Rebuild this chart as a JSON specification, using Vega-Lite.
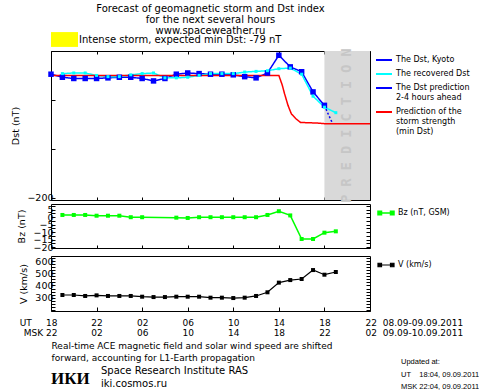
{
  "$schema": "https://vega.github.io/schema/vega-lite/v6.json",
  "background": "white",
  "padding": {"left": 10, "top": 4, "right": 0, "bottom": 0},
  "config": {
    "font": "DejaVu Sans",
    "view": {"stroke": "black", "strokeWidth": 1},
    "axis": {"domain": false, "grid": false, "labelColor": "black", "tickColor": "black", "titleColor": "black", "titleFontWeight": "normal", "labelFontSize": 9.5, "titleFontSize": 9.5, "labelFont": "DejaVu Sans", "titleFont": "DejaVu Sans", "labelOverlap": false},
    "legend": {"labelColor": "black", "labelFont": "DejaVu Sans", "labelFontSize": 8},
    "title": {"color": "black", "font": "DejaVu Sans", "fontWeight": "normal"}
  },
  "datasets": {
    "dst": [
      {"h": 0, "v": 2, "s": "The Dst, Kyoto"}, {"h": 1, "v": -3, "s": "The Dst, Kyoto"}, {"h": 2, "v": -5, "s": "The Dst, Kyoto"}, {"h": 3, "v": -5, "s": "The Dst, Kyoto"}, {"h": 4, "v": -5, "s": "The Dst, Kyoto"}, {"h": 5, "v": -4, "s": "The Dst, Kyoto"}, {"h": 6, "v": -3, "s": "The Dst, Kyoto"}, {"h": 7, "v": -3, "s": "The Dst, Kyoto"}, {"h": 8, "v": -5, "s": "The Dst, Kyoto"}, {"h": 9, "v": -9, "s": "The Dst, Kyoto"}, {"h": 10, "v": -5, "s": "The Dst, Kyoto"}, {"h": 11, "v": 2, "s": "The Dst, Kyoto"}, {"h": 12, "v": 4, "s": "The Dst, Kyoto"}, {"h": 13, "v": 3, "s": "The Dst, Kyoto"}, {"h": 14, "v": 2, "s": "The Dst, Kyoto"}, {"h": 15, "v": 2, "s": "The Dst, Kyoto"}, {"h": 16, "v": 1, "s": "The Dst, Kyoto"}, {"h": 17, "v": -2, "s": "The Dst, Kyoto"}, {"h": 18, "v": -4, "s": "The Dst, Kyoto"}, {"h": 19, "v": 4, "s": "The Dst, Kyoto"}, {"h": 20, "v": 33, "s": "The Dst, Kyoto"}, {"h": 21, "v": 14, "s": "The Dst, Kyoto"}, {"h": 22, "v": 6, "s": "The Dst, Kyoto"}, {"h": 23, "v": -27, "s": "The Dst, Kyoto"}, {"h": 24, "v": -49, "s": "The Dst, Kyoto"},
      {"h": 1, "v": 3, "s": "The recovered Dst"}, {"h": 2, "v": 4, "s": "The recovered Dst"}, {"h": 3, "v": 4, "s": "The recovered Dst"}, {"h": 4, "v": 0, "s": "The recovered Dst"}, {"h": 5, "v": -2, "s": "The recovered Dst"}, {"h": 6, "v": -2, "s": "The recovered Dst"}, {"h": 7, "v": 1, "s": "The recovered Dst"}, {"h": 8, "v": 3, "s": "The recovered Dst"}, {"h": 9, "v": 4, "s": "The recovered Dst"}, {"h": 10, "v": -4, "s": "The recovered Dst"}, {"h": 11, "v": -4, "s": "The recovered Dst"}, {"h": 12, "v": -3, "s": "The recovered Dst"}, {"h": 13, "v": 0, "s": "The recovered Dst"}, {"h": 14, "v": 3, "s": "The recovered Dst"}, {"h": 15, "v": 3, "s": "The recovered Dst"}, {"h": 16, "v": 3, "s": "The recovered Dst"}, {"h": 17, "v": 5.5, "s": "The recovered Dst"}, {"h": 18, "v": 6.6, "s": "The recovered Dst"}, {"h": 19, "v": 7.7, "s": "The recovered Dst"}, {"h": 20, "v": 11, "s": "The recovered Dst"}, {"h": 21, "v": 12, "s": "The recovered Dst"}, {"h": 22, "v": 2, "s": "The recovered Dst"}, {"h": 23, "v": -34, "s": "The recovered Dst"}, {"h": 24, "v": -52, "s": "The recovered Dst"}, {"h": 25, "v": -61, "s": "The recovered Dst"},
      {"h": 24, "v": -49, "s": "The Dst prediction|2-4 hours ahead"}, {"h": 24.35, "v": -64, "s": "The Dst prediction|2-4 hours ahead"}, {"h": 24.7, "v": -78, "s": "The Dst prediction|2-4 hours ahead"},
      {"h": 0, "v": 0, "s": "Prediction of the|storm strength|(min Dst)"}, {"h": 20, "v": 0, "s": "Prediction of the|storm strength|(min Dst)"}, {"h": 20.3, "v": -16, "s": "Prediction of the|storm strength|(min Dst)"}, {"h": 20.5, "v": -30, "s": "Prediction of the|storm strength|(min Dst)"}, {"h": 20.8, "v": -49, "s": "Prediction of the|storm strength|(min Dst)"}, {"h": 21.1, "v": -63, "s": "Prediction of the|storm strength|(min Dst)"}, {"h": 21.5, "v": -71, "s": "Prediction of the|storm strength|(min Dst)"}, {"h": 21.9, "v": -77, "s": "Prediction of the|storm strength|(min Dst)"}, {"h": 23.4, "v": -78, "s": "Prediction of the|storm strength|(min Dst)"}, {"h": 24, "v": -79, "s": "Prediction of the|storm strength|(min Dst)"}, {"h": 28, "v": -79, "s": "Prediction of the|storm strength|(min Dst)"}
    ],
    "bz": [
      {"h": 1, "v": 1.5, "s": "Bz (nT, GSM)"}, {"h": 2, "v": 1.5, "s": "Bz (nT, GSM)"}, {"h": 3, "v": 1.5, "s": "Bz (nT, GSM)"}, {"h": 4, "v": 1, "s": "Bz (nT, GSM)"}, {"h": 5, "v": 1, "s": "Bz (nT, GSM)"}, {"h": 6, "v": 1, "s": "Bz (nT, GSM)"}, {"h": 7, "v": 0, "s": "Bz (nT, GSM)"}, {"h": 8, "v": 0, "s": "Bz (nT, GSM)"}, {"h": 11, "v": -0.3, "s": "Bz (nT, GSM)"}, {"h": 12, "v": -0.5, "s": "Bz (nT, GSM)"}, {"h": 13, "v": 0, "s": "Bz (nT, GSM)"}, {"h": 14, "v": 0, "s": "Bz (nT, GSM)"}, {"h": 15, "v": 0, "s": "Bz (nT, GSM)"}, {"h": 16, "v": 0, "s": "Bz (nT, GSM)"}, {"h": 17, "v": 0, "s": "Bz (nT, GSM)"}, {"h": 18, "v": 0, "s": "Bz (nT, GSM)"}, {"h": 19, "v": 1.5, "s": "Bz (nT, GSM)"}, {"h": 20, "v": 4, "s": "Bz (nT, GSM)"}, {"h": 21, "v": 1.2, "s": "Bz (nT, GSM)"}, {"h": 22, "v": -14.5, "s": "Bz (nT, GSM)"}, {"h": 23, "v": -14.5, "s": "Bz (nT, GSM)"}, {"h": 24, "v": -10.3, "s": "Bz (nT, GSM)"}, {"h": 25, "v": -9.4, "s": "Bz (nT, GSM)"}
    ],
    "vsw": [
      {"h": 1, "v": 322, "s": "V (km/s)"}, {"h": 2, "v": 322, "s": "V (km/s)"}, {"h": 3, "v": 314, "s": "V (km/s)"}, {"h": 4, "v": 319, "s": "V (km/s)"}, {"h": 5, "v": 314, "s": "V (km/s)"}, {"h": 6, "v": 314, "s": "V (km/s)"}, {"h": 7, "v": 314, "s": "V (km/s)"}, {"h": 8, "v": 308, "s": "V (km/s)"}, {"h": 9, "v": 305, "s": "V (km/s)"}, {"h": 10, "v": 305, "s": "V (km/s)"}, {"h": 11, "v": 308, "s": "V (km/s)"}, {"h": 12, "v": 308, "s": "V (km/s)"}, {"h": 13, "v": 308, "s": "V (km/s)"}, {"h": 14, "v": 300, "s": "V (km/s)"}, {"h": 15, "v": 300, "s": "V (km/s)"}, {"h": 16, "v": 297, "s": "V (km/s)"}, {"h": 17, "v": 300, "s": "V (km/s)"}, {"h": 18, "v": 314, "s": "V (km/s)"}, {"h": 19, "v": 344, "s": "V (km/s)"}, {"h": 20, "v": 423, "s": "V (km/s)"}, {"h": 21, "v": 444, "s": "V (km/s)"}, {"h": 22, "v": 453, "s": "V (km/s)"}, {"h": 23, "v": 526, "s": "V (km/s)"}, {"h": 24, "v": 488, "s": "V (km/s)"}, {"h": 25, "v": 510, "s": "V (km/s)"}
    ]
  },
  "spacing": 4,
  "bounds": "flush",
  "resolve": {"scale": {"x": "independent", "y": "independent", "color": "independent"}, "legend": {"color": "independent"}},
  "vconcat": [
    {
      "width": 319,
      "height": 21,
      "view": {"stroke": null},
      "title": {"text": ["Forecast of geomagnetic storm and Dst index", "for the next several hours", "www.spaceweather.ru"], "anchor": "middle", "frame": "group", "fontSize": 10, "lineHeight": 11, "offset": -10},
      "data": {"values": [{"level": "Intense storm, expected min Dst: -79 nT"}]},
      "mark": {"type": "point", "opacity": 0},
      "encoding": {
        "fill": {"field": "level", "type": "nominal", "scale": {"range": ["#ffff00"]}, "legend": {"title": null, "orient": "top-left", "offset": 0, "padding": 0, "symbolType": "M-1,-0.55H1V0.55H-1Z", "symbolSize": 729, "symbolOpacity": 1, "symbolStrokeWidth": 0, "labelFontSize": 10, "labelOffset": 1, "labelLimit": 400}}
      }
    },
    {
      "width": 319,
      "height": 149,
      "resolve": {"axis": {"x": "independent"}},
      "layer": [
        {
          "data": {"values": [{"h": 24, "h2": 28}]},
          "mark": {"type": "rect", "color": "#d9d9d9"},
          "encoding": {
            "x": {"field": "h", "type": "quantitative", "scale": {"domain": [0, 28], "nice": false, "zero": false}, "axis": {"orient": "bottom", "values": [0, 4, 8, 12, 16, 20, 24, 28], "labels": false, "tickSize": -3, "title": null}},
            "x2": {"field": "h2"}
          }
        },
        {
          "data": {"values": [{"h": 26, "v": -82, "label": "P R E D I C T I O N"}]},
          "mark": {"type": "text", "angle": 270, "font": "DejaVu Sans Mono", "fontSize": 13.5, "fontWeight": "bold", "color": "#c6c6c6"},
          "encoding": {
            "x": {"field": "h", "type": "quantitative", "axis": {"orient": "top", "values": [0, 4, 8, 12, 16, 20, 24, 28], "labels": false, "tickSize": -3, "title": null}},
            "y": {"field": "v", "type": "quantitative", "scale": {"domain": [-204, 40], "nice": false, "zero": false}, "axis": {"values": [-200, -190, -180, -170, -160, -150, -140, -130, -120, -110, -100, -90, -80, -70, -60, -50, -40, -30, -20, -10, 0, 10, 20, 30, 40], "labelExpr": "datum.value % 50 === 0 ? datum.label : ''", "tickSize": -4, "labelPadding": 2, "title": "Dst (nT)", "titlePadding": 6}},
            "text": {"field": "label"}
          }
        },
        {
          "data": {"name": "dst"},
          "mark": {"type": "line", "strokeWidth": 1.5},
          "encoding": {
            "x": {"field": "h", "type": "quantitative", "axis": null},
            "y": {"field": "v", "type": "quantitative"},
            "color": {"field": "s", "type": "nominal", "scale": {"domain": ["The Dst, Kyoto", "The recovered Dst", "The Dst prediction|2-4 hours ahead", "Prediction of the|storm strength|(min Dst)"], "range": ["#0000ff", "#00ffff", "#0000ff", "#ff0000"]}, "legend": {"title": null, "orient": "right", "offset": 2, "padding": 0, "symbolType": "stroke", "symbolSize": 256, "symbolStrokeWidth": 2, "labelFontSize": 8, "labelExpr": "split(datum.label, '|')", "rowPadding": 1, "labelOffset": 3, "labelLimit": 200}},
            "strokeDash": {"field": "s", "type": "nominal", "scale": {"domain": ["The Dst, Kyoto", "The recovered Dst", "The Dst prediction|2-4 hours ahead", "Prediction of the|storm strength|(min Dst)"], "range": [[1, 0], [1, 0], [2, 2], [1, 0]]}, "legend": null}
          }
        },
        {
          "data": {"name": "dst"},
          "transform": [{"filter": "datum.s === 'The Dst, Kyoto'"}],
          "mark": {"type": "square", "size": 30, "opacity": 1},
          "encoding": {
            "x": {"field": "h", "type": "quantitative", "axis": null},
            "y": {"field": "v", "type": "quantitative"},
            "color": {"field": "s", "type": "nominal"}
          }
        },
        {
          "data": {"name": "dst"},
          "transform": [{"filter": "datum.s === 'The recovered Dst'"}],
          "mark": {"type": "square", "size": 9, "opacity": 1},
          "encoding": {
            "x": {"field": "h", "type": "quantitative", "axis": null},
            "y": {"field": "v", "type": "quantitative"},
            "color": {"field": "s", "type": "nominal"}
          }
        }
      ]
    },
    {
      "spacing": 8,
      "bounds": "flush",
      "resolve": {"scale": {"x": "independent", "y": "independent", "color": "independent"}, "legend": {"color": "independent"}},
      "vconcat": [
        {
          "width": 319,
          "height": 44,
          "data": {"name": "bz"},
          "layer": [
            {
              "mark": {"type": "line", "strokeWidth": 1.5, "point": {"shape": "square", "size": 16, "filled": true, "opacity": 1}},
              "encoding": {
                "x": {"field": "h", "type": "quantitative", "scale": {"domain": [0, 28], "nice": false, "zero": false}, "axis": {"values": [0, 4, 8, 12, 16, 20, 24, 28], "labels": false, "tickSize": -3, "title": null}},
                "y": {"field": "v", "type": "quantitative", "scale": {"domain": [-20.5, 8.8], "nice": false, "zero": false}, "axis": {"values": [-20, -17.5, -15, -12.5, -10, -7.5, -5, -2.5, 0, 2.5, 5, 7.5], "labelExpr": "datum.value % 5 === 0 ? datum.label : ''", "tickSize": -4, "labelPadding": 2, "title": "Bz (nT)", "titlePadding": 6}},
                "color": {"field": "s", "type": "nominal", "scale": {"range": ["#00ff00"]}, "legend": {"title": null, "orient": "right", "offset": 6, "padding": 0, "symbolType": "M-1,-0.22H-0.56V0.22H-1ZM-0.78,0H0.78M0.56,-0.22H1V0.22H0.56Z", "symbolSize": 256, "symbolStrokeWidth": 1.5, "symbolFillColor": "#00ff00", "labelFontSize": 8, "labelOffset": 3}}
              }
            },
            {
              "mark": {"type": "line", "opacity": 0},
              "encoding": {
                "x": {"field": "h", "type": "quantitative", "scale": {"domain": [0, 28], "nice": false, "zero": false}},
                "y": {"field": "v", "type": "quantitative", "scale": {"domain": [-20.5, 8.8], "nice": false, "zero": false}, "axis": {"orient": "right", "values": [-20, -17.5, -15, -12.5, -10, -7.5, -5, -2.5, 0, 2.5, 5, 7.5], "labels": false, "tickSize": -4, "title": null}}
              }
            }
          ],
          "resolve": {"scale": {"y": "independent"}}
        },
        {
          "width": 319,
          "height": 55,
          "data": {"name": "vsw"},
          "layer": [
            {
              "mark": {"type": "line", "strokeWidth": 1.2, "color": "black", "point": {"shape": "square", "size": 16, "filled": true, "opacity": 1}},
              "encoding": {
                "x": {"field": "h", "type": "quantitative", "scale": {"domain": [0, 28], "nice": false, "zero": false}, "axis": {
                  "values": [0, 4, 8, 12, 16, 20, 24, 28], "tickSize": -4, "labelFlush": false, "labelBaseline": "top", "labelLineHeight": 10, "labelPadding": 11, "labelFontSize": 9,
                  "labelAlign": {"condition": [{"test": "datum.value === 0", "value": "right"}, {"test": "datum.value === 28", "value": "left"}], "value": "center"},
                  "labelOffset": {"condition": [{"test": "datum.value === 0", "value": 6}, {"test": "datum.value === 28", "value": -5}], "value": 0},
                  "labelExpr": "datum.value === 0 ? ['UT\u00a0\u00a0\u00a0\u00a0\u00a018', 'MSK\u00a022'] : datum.value === 28 ? ['22\u00a0\u00a008.09-09.09.2011', '02\u00a0\u00a009.09-10.09.2011'] : [format((18 + datum.value) % 24, '02d'), format((22 + datum.value) % 24, '02d')]",
                  "title": ["Real-time ACE magnetic field and solar wind speed are shifted", "forward, accounting for L1-Earth propagation"], "titleAnchor": "start", "titleAlign": "left", "titleFontSize": 9, "titleLineHeight": 12, "titlePadding": 4}},
                "y": {"field": "v", "type": "quantitative", "scale": {"domain": [191, 641], "nice": false, "zero": false}, "axis": {"values": [200, 225, 250, 275, 300, 325, 350, 375, 400, 425, 450, 475, 500, 525, 550, 575, 600, 625], "labelExpr": "datum.value % 100 === 0 && datum.value >= 300 ? datum.label : ''", "tickSize": -4, "labelPadding": 2, "title": "V (km/s)", "titlePadding": 6}},
                "color": {"field": "s", "type": "nominal", "scale": {"range": ["#000000"]}, "legend": {"title": null, "orient": "right", "offset": 6, "padding": 0, "symbolType": "M-1,-0.22H-0.56V0.22H-1ZM-0.78,0H0.78M0.56,-0.22H1V0.22H0.56Z", "symbolSize": 256, "symbolStrokeWidth": 1.2, "symbolFillColor": "#000000", "labelFontSize": 8, "labelOffset": 3}}
              }
            },
            {
              "mark": {"type": "line", "opacity": 0},
              "encoding": {
                "x": {"field": "h", "type": "quantitative", "scale": {"domain": [0, 28], "nice": false, "zero": false}},
                "y": {"field": "v", "type": "quantitative", "scale": {"domain": [191, 641], "nice": false, "zero": false}, "axis": {"orient": "right", "values": [200, 225, 250, 275, 300, 325, 350, 375, 400, 425, 450, 475, 500, 525, 550, 575, 600, 625], "labels": false, "tickSize": -4, "title": null}}
              }
            }
          ],
          "resolve": {"scale": {"y": "independent"}}
        },
        {
          "spacing": 10,
          "bounds": "flush",
          "hconcat": [
            {"width": 40, "height": 1, "view": {"stroke": null}, "data": {"values": []}, "mark": {"type": "rect", "opacity": 0},
             "title": {"text": "ИКИ", "orient": "bottom", "anchor": "start", "font": "Liberation Serif", "fontWeight": "bold", "fontSize": 17, "offset": 51}},
            {"width": 290, "height": 1, "view": {"stroke": null}, "data": {"values": []}, "mark": {"type": "rect", "opacity": 0},
             "title": {"text": ["Space Research Institute RAS", "iki.cosmos.ru"], "orient": "bottom", "anchor": "start", "fontSize": 10, "lineHeight": 13, "offset": 46}},
            {"width": 70, "height": 1, "view": {"stroke": null}, "data": {"values": []}, "mark": {"type": "rect", "opacity": 0},
             "title": {"text": ["Updated at:", "UT\u00a0\u00a0\u00a0\u00a018:04, 09.09.2011", "MSK 22:04, 09.09.2011"], "orient": "bottom", "anchor": "start", "font": "Liberation Sans", "fontSize": 7.5, "lineHeight": 12.5, "offset": 38}}
          ]
        }
      ]
    }
  ]
}
